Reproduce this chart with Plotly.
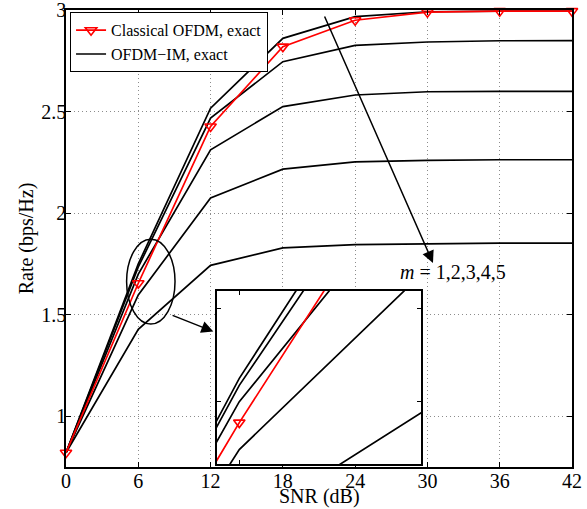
import plotly.graph_objects as go

# ---------------- data ----------------
snr = [0, 6, 12, 18, 24, 30, 36, 42]
classical_ofdm = [0.82, 1.655, 2.427, 2.82, 2.95, 2.99, 2.995, 2.995]
ofdm_im_m1 = [0.82, 1.75, 2.517, 2.861, 2.968, 2.992, 2.995, 2.995]
ofdm_im_m2 = [0.82, 1.735, 2.468, 2.746, 2.826, 2.843, 2.849, 2.85]
ofdm_im_m3 = [0.82, 1.70, 2.312, 2.525, 2.582, 2.598, 2.60, 2.60]
ofdm_im_m4 = [0.82, 1.597, 2.075, 2.217, 2.253, 2.26, 2.263, 2.263]
ofdm_im_m5 = [0.82, 1.428, 1.743, 1.829, 1.845, 1.85, 1.852, 1.852]
ofdm_im_series = [ofdm_im_m1, ofdm_im_m2, ofdm_im_m3, ofdm_im_m4, ofdm_im_m5]

x_ticks = [0, 6, 12, 18, 24, 30, 36, 42]
y_ticks = [1, 1.5, 2, 2.5, 3]
y_tick_labels = ["1", "1.5", "2", "2.5", "3"]

FONT = "Liberation Serif"
fig = go.Figure()

# ---------------- main axes ----------------
for i, ys in enumerate(ofdm_im_series):
    fig.add_trace(go.Scatter(
        x=snr, y=ys, mode="lines", name="OFDM\u2212IM, exact",
        line=dict(color="black", width=1.7),
        showlegend=(i == 0), legendrank=2, xaxis="x", yaxis="y"))
fig.add_trace(go.Scatter(
    x=snr, y=classical_ofdm, mode="lines+markers", name="Classical OFDM, exact",
    line=dict(color="#ff0000", width=1.7),
    marker=dict(symbol="triangle-down-open", size=10, color="#ff0000",
                line=dict(width=1.6, color="#ff0000")),
    cliponaxis=False, legendrank=1, xaxis="x", yaxis="y"))

# ---------------- inset (zoom) axes ----------------
for ys in ofdm_im_series:
    fig.add_trace(go.Scatter(
        x=snr, y=ys, mode="lines", line=dict(color="black", width=1.7),
        showlegend=False, xaxis="x2", yaxis="y2"))
fig.add_trace(go.Scatter(
    x=snr, y=classical_ofdm, mode="lines+markers",
    line=dict(color="#ff0000", width=1.7),
    marker=dict(symbol="triangle-down-open", size=10, color="#ff0000",
                line=dict(width=1.6, color="#ff0000")),
    showlegend=False, xaxis="x2", yaxis="y2"))

axis_common = dict(
    showline=True, linecolor="black", linewidth=1.5, mirror="ticks",
    ticks="inside", ticklen=5, tickcolor="black", tickwidth=1,
    zeroline=False, automargin=False, ticklabeloverflow="allow",
    tickfont=dict(family=FONT, size=20, color="black"),
)

fig.update_layout(
    width=587, height=509, autosize=False,
    margin=dict(l=66, r=15, t=10, b=42),
    paper_bgcolor="white", plot_bgcolor="white",
    font=dict(family=FONT, size=20, color="black"),
    xaxis=dict(
        range=[0, 42], tickvals=x_ticks, domain=[0, 1],
        showgrid=True, gridcolor="#8c8c8c", griddash="1px,3px", gridwidth=1,
        ticklabelstandoff=-5,
        **axis_common),
    yaxis=dict(
        range=[0.75, 3.0005], tickvals=y_ticks, ticktext=y_tick_labels, domain=[0, 1],
        showgrid=True, gridcolor="#8c8c8c", griddash="1px,3px", gridwidth=1,
        title=dict(text="Rate (bps/Hz)", font=dict(family=FONT, size=20), standoff=2),
        ticklabelstandoff=-6,
        **axis_common),
    xaxis2=dict(
        range=[5.413, 10.72], domain=[0.2978, 0.7016], anchor="y2",
        showline=True, linecolor="black", linewidth=2, mirror="ticks",
        ticks="inside", ticklen=4, tickcolor="black", tickvals=[6],
        showticklabels=False, showgrid=False, zeroline=False, automargin=False),
    yaxis2=dict(
        range=[1.566, 1.939], domain=[0.0066, 0.3862], anchor="x2",
        showline=True, linecolor="black", linewidth=2, mirror="ticks",
        ticks="inside", ticklen=4, tickcolor="black", tickvals=[1.7, 1.9],
        showticklabels=False, showgrid=False, zeroline=False, automargin=False),
    legend=dict(
        x=0.008, y=0.995, xanchor="left", yanchor="top",
        bgcolor="white", bordercolor="black", borderwidth=1,
        font=dict(family=FONT, size=16, color="black"),
        tracegroupgap=0, itemwidth=30),
    showlegend=True,
)

# x-axis title (placed as annotation for exact vertical position)
fig.add_annotation(x=0.5, y=-0.065, xref="paper", yref="paper",
                   text="SNR (dB)", showarrow=False, yanchor="middle",
                   font=dict(family=FONT, size=20, color="black"))

# ellipse marking the zoomed region
fig.add_shape(type="circle", xref="x", yref="y",
              x0=5.03, x1=9.05, y0=1.454, y1=1.872,
              line=dict(color="black", width=1.5))

# arrow from ellipse to inset
fig.add_annotation(x=12.23, y=1.417, ax=8.72, ay=1.4995, xref="x", yref="y",
                   axref="x", ayref="y", text="", showarrow=True,
                   arrowhead=2, arrowsize=1.6, arrowwidth=1.5, arrowcolor="black")

# arrow indicating increasing m
fig.add_annotation(x=30.46, y=1.755, ax=21.41, ay=2.976, xref="x", yref="y",
                   axref="x", ayref="y", text="", showarrow=True,
                   arrowhead=2, arrowsize=1.6, arrowwidth=1.5, arrowcolor="black")
fig.add_annotation(x=32.12, y=1.708, xref="x", yref="y",
                   text="<i>m</i> = 1,2,3,4,5", showarrow=False,
                   font=dict(family=FONT, size=20, color="black"))

fig.write_html("out.html",
               config={"displayModeBar": False},
               post_script="document.body.style.margin='0';"
                           "document.body.style.padding='0';")
